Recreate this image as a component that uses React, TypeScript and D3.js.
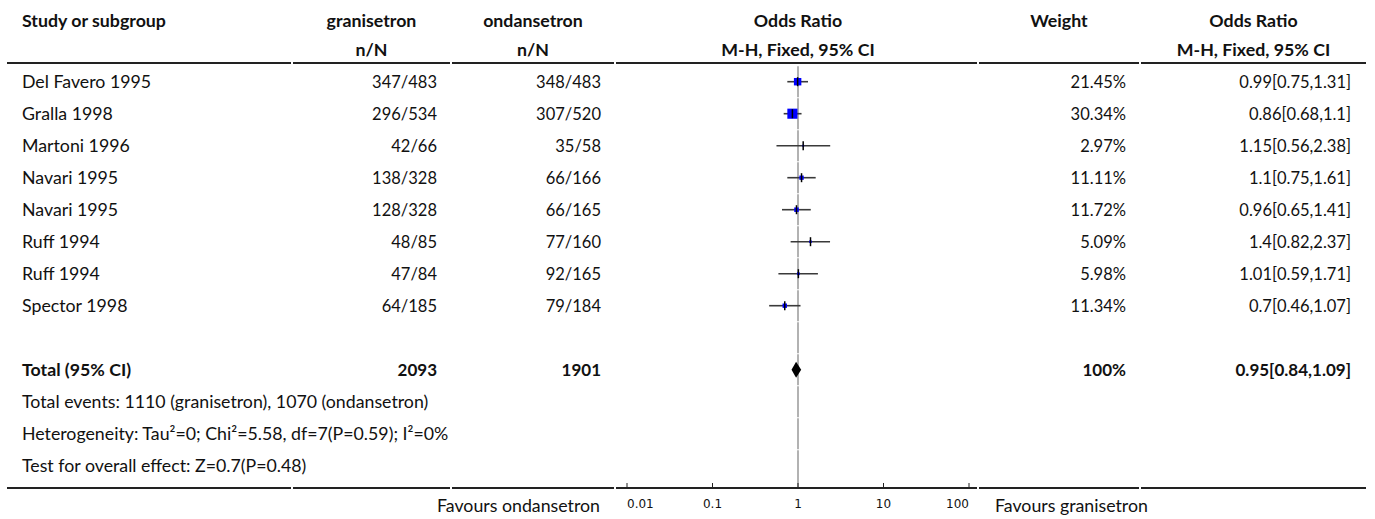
import React from "react";
import * as d3 from "d3";

// Study rows of the meta-analysis
const studies = [
  "Del Favero 1995",
  "Gralla 1998",
  "Martoni 1996",
  "Navari 1995",
  "Navari 1995",
  "Ruff 1994",
  "Ruff 1994",
  "Spector 1998",
];
const granisetronEvents = ["347/483", "296/534", "42/66", "138/328", "128/328", "48/85", "47/84", "64/185"];
const ondansetronEvents = ["348/483", "307/520", "35/58", "66/166", "66/165", "77/160", "92/165", "79/184"];
const weights = [21.45, 30.34, 2.97, 11.11, 11.72, 5.09, 5.98, 11.34];
const oddsRatio = [0.99, 0.86, 1.15, 1.1, 0.96, 1.4, 1.01, 0.7];
const ciLower = [0.75, 0.68, 0.56, 0.75, 0.65, 0.82, 0.59, 0.46];
const ciUpper = [1.31, 1.1, 2.38, 1.61, 1.41, 2.37, 1.71, 1.07];

// Pooled estimate
const totalLabel = "Total (95% CI)";
const totalGranisetron = "2093";
const totalOndansetron = "1901";
const totalWeight = "100%";
const totalOR = 0.95;
const totalLower = 0.84;
const totalUpper = 1.09;

const footnotes = [
  "Total events: 1110 (granisetron), 1070 (ondansetron)",
  "Heterogeneity: Tau\u00B2=0; Chi\u00B2=5.58, df=7(P=0.59); I\u00B2=0%",
  "Test for overall effect: Z=0.7(P=0.48)",
];

const axisTicks = [0.01, 0.1, 1, 10, 100];
const favoursLeft = "Favours ondansetron";
const favoursRight = "Favours granisetron";

const W = 1375;
const H = 519;
const FONT = "Lato, 'Source Sans Pro', 'Noto Sans', sans-serif";
const FS = 17.75; // labels and headings
const FS_NUM = 16.5; // numeric table cells
const FS_NUM_BOLD = 17;

// column boundaries
const cols = [7, 292, 451, 615, 978, 1140, 1367];
const pad = 14;

export default function App() {
  const x = d3.scaleLog().domain([0.01, 100]).range([627, 969]);
  // row index -> vertical centre
  const row = d3.scaleLinear().domain([0, 1]).range([81.7, 113.7]);
  const headerY1 = 21;
  const headerY2 = 50;
  const ruleTop = 63;
  const axisY = 488;
  const base = (y: number, fs: number = FS) => y + fs * 0.36;

  const fmt = (v: number) => String(v);
  const orText = (i: number) => `${fmt(oddsRatio[i])}[${fmt(ciLower[i])},${fmt(ciUpper[i])}]`;
  const totalRow = studies.length + 1;
  const noteRows = footnotes.map((_, k) => totalRow + 1 + k);
  const allRows = d3.range(0, noteRows[noteRows.length - 1] + 1);

  const colCenter = (c: number) => (cols[c] + cols[c + 1]) / 2;
  const colRight = (c: number) => cols[c + 1] - pad - (c === 5 ? 2 : 0);
  const x1 = x(1);

  const headerTxt = (t: string, xx: number, y: number, anchor: string) => (
    <text x={xx} y={base(y)} textAnchor={anchor} fontWeight="bold">{t}</text>
  );

  const rules = (y: number) =>
    d3.range(cols.length - 1).map((c) => (
      <line key={`r${y}-${c}`} x1={cols[c] + (c === 0 ? 0 : 1)} x2={cols[c + 1] - 1} y1={y} y2={y} stroke="#222" strokeWidth={2} />
    ));

  const squareSide = (w: number) => 0.3 * w + 1;

  const numCell = (t: string, c: number, y: number, key: string) => (
    <text key={key} x={colRight(c)} y={base(y, FS_NUM)} fontSize={FS_NUM} textAnchor="end">{t}</text>
  );
  const boldNumCell = (t: string, c: number, y: number) => (
    <text x={colRight(c)} y={base(y, FS_NUM_BOLD)} fontSize={FS_NUM_BOLD} fontWeight="bold" textAnchor="end">{t}</text>
  );

  const yt = row(totalRow);

  return (
    <svg width={W} height={H} style={{ position: "absolute", left: 0, top: 0, background: "#fff" }} fontFamily={FONT} fontSize={FS} fill="#111">
      {/* headers */}
      {headerTxt("Study or subgroup", 22, headerY1, "start")}
      {headerTxt("granisetron", colCenter(1), headerY1, "middle")}
      {headerTxt("n/N", colCenter(1), headerY2, "middle")}
      {headerTxt("ondansetron", colCenter(2), headerY1, "middle")}
      {headerTxt("n/N", colCenter(2), headerY2, "middle")}
      {headerTxt("Odds Ratio", x1, headerY1, "middle")}
      {headerTxt("M-H, Fixed, 95% CI", x1, headerY2, "middle")}
      {headerTxt("Weight", colCenter(4), headerY1, "middle")}
      {headerTxt("Odds Ratio", colCenter(5), headerY1, "middle")}
      {headerTxt("M-H, Fixed, 95% CI", colCenter(5), headerY2, "middle")}
      {rules(ruleTop)}

      {/* line of no effect, drawn cell by cell */}
      {allRows.map((r) => (
        <line key={`v${r}`} x1={x1} x2={x1} y1={row(r) - 15.5} y2={r === allRows.length - 1 ? axisY : row(r) + 15.5} stroke="#999" strokeWidth={1.5} />
      ))}

      {/* study rows */}
      {studies.map((s, i) => {
        const y = row(i);
        const side = squareSide(weights[i]);
        return (
          <g key={`s${i}`}>
            <text x={22} y={base(y)}>{s}</text>
            {numCell(granisetronEvents[i], 1, y, "g")}
            {numCell(ondansetronEvents[i], 2, y, "o")}
            {numCell(`${weights[i].toFixed(2)}%`, 4, y, "w")}
            {numCell(orText(i), 5, y, "or")}
            <line x1={x(ciLower[i])} x2={x(ciUpper[i])} y1={y} y2={y} stroke="#3a3a3a" strokeWidth={1.6} />
            <rect x={x(oddsRatio[i]) - side / 2} y={y - side / 2} width={side} height={side} fill="#0000ff" />
            <line x1={x(oddsRatio[i])} x2={x(oddsRatio[i])} y1={y - 4.5} y2={y + 4.5} stroke="#000" strokeWidth={1.5} />
          </g>
        );
      })}

      {/* pooled row */}
      <text x={22} y={base(yt)} fontWeight="bold">{totalLabel}</text>
      {boldNumCell(totalGranisetron, 1, yt)}
      {boldNumCell(totalOndansetron, 2, yt)}
      {boldNumCell(totalWeight, 4, yt)}
      {boldNumCell(`${totalOR}[${totalLower},${totalUpper}]`, 5, yt)}
      <path
        d={`M${x(totalLower)},${yt} L${x(totalOR)},${yt - 8} L${x(totalUpper)},${yt} L${x(totalOR)},${yt + 8} Z`}
        fill="#000"
      />

      {footnotes.map((t, k) => (
        <text key={`f${k}`} x={22} y={base(row(noteRows[k]))}>{t}</text>
      ))}

      {/* axis */}
      {rules(axisY)}
      {axisTicks.map((t, k) => (
        <g key={`t${k}`}>
          <line x1={x(t)} x2={x(t)} y1={axisY - 5} y2={axisY} stroke="#222" strokeWidth={1} />
          <text
            x={x(t)}
            y={507.5}
            fontFamily="'DejaVu Sans', sans-serif"
            fontSize={12}
            textAnchor={k === 0 ? "start" : k === axisTicks.length - 1 ? "end" : "middle"}
          >
            {d3.format("~g")(t)}
          </text>
        </g>
      ))}
      <text x={600} y={base(506)} textAnchor="end">{favoursLeft}</text>
      <text x={995} y={base(506)}>{favoursRight}</text>
    </svg>
  );
}
